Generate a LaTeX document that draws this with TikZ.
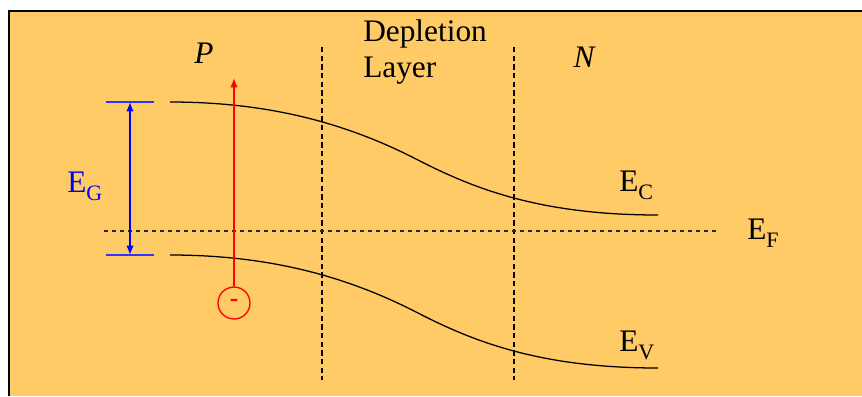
\documentclass[tikz,border=0pt]{standalone}
\usepackage{fontspec}
\setmainfont{Liberation Serif}
\usetikzlibrary{arrows.meta}

\definecolor{bandbg}{RGB}{254,203,102}
\newcommand{\elevel}[1]{E\raisebox{-6.2pt}{\fontsize{16.5}{17}\selectfont #1}}

\begin{document}
\begin{tikzpicture}[
  x=0.75pt, y=-0.75pt,
  every node/.style={font=\fontsize{23.5}{27}\selectfont},
  lbl/.style={anchor=base west, inner sep=0pt},
  band/.style={line width=0.95pt},
  fermi/.style={dashed, line width=0.9pt, black!85},
  border/.style={dash pattern=on 4pt off 2.5pt, line width=0.9pt},
  gap/.style={{Latex[length=7pt,width=5.5pt]}-{Latex[length=7pt,width=5.5pt]}, blue, line width=1pt},
  tick/.style={blue!80, line width=1pt},
  kick/.style={-{Latex[length=7pt,width=5.5pt]}, red, line width=1pt}
]

\useasboundingbox (0,0) rectangle (862,396);
\fill[bandbg] (9,11) rectangle (862,396);
\draw[line width=1pt] (9,396) -- (9,11) -- (862,11);

% region labels
\node[font=\fontsize{23.5}{27}\selectfont\itshape] (p) at (204,53) {P};
\node[font=\fontsize{23.5}{27}\selectfont\itshape] (n) at (584,57) {N};
\node[lbl, align=left] (depl) at (363,77) {Depletion\\Layer};

% junction edges
\coordinate (j1top) at (322,47);
\coordinate (j1bot) at (322,380);
\coordinate (j2top) at (514,47);
\coordinate (j2bot) at (514,380);
\draw[border] (j1top) -- (j1bot);
\draw[border] (j2top) -- (j2bot);

% Fermi level
\coordinate (fl) at (104,231);
\coordinate (fr) at (718,231);
\draw[fermi] (fl) -- (fr);
\node[lbl] (ef) at (747,239) {\elevel{F}};

% conduction and valence bands
\draw[band] (170,102) .. controls (275,102) and (352,126) .. (418,160)
  .. controls (478,191) and (545,215) .. (658,215);
\draw[band] (170,255) .. controls (275,255) and (352,279) .. (418,313)
  .. controls (478,344) and (545,368) .. (658,368);
\node[lbl] (ec) at (619,191) {\elevel{C}};
\node[lbl] (ev) at (619,351) {\elevel{V}};

% band gap
\coordinate (gl1) at (106,102);
\coordinate (gr1) at (154,102);
\coordinate (gl2) at (106,255);
\coordinate (gr2) at (154,255);
\coordinate (gtop) at (130,102);
\coordinate (gbot) at (130,255);
\draw[tick] (gl1) -- (gr1);
\draw[tick] (gl2) -- (gr2);
\draw[gap] (gtop) -- (gbot);
\node[lbl, text=blue] (eg) at (67,192) {\elevel{G}};

% electron
\node[circle, draw=red, line width=1pt, minimum size=24pt, inner sep=0pt,
  text=red, font=\fontsize{19}{19}\selectfont\bfseries] (elec) at (234,303) {-};
\coordinate (tip) at (234,78);
\draw[kick] (elec.north) -- (tip);

\end{tikzpicture}
\end{document}
